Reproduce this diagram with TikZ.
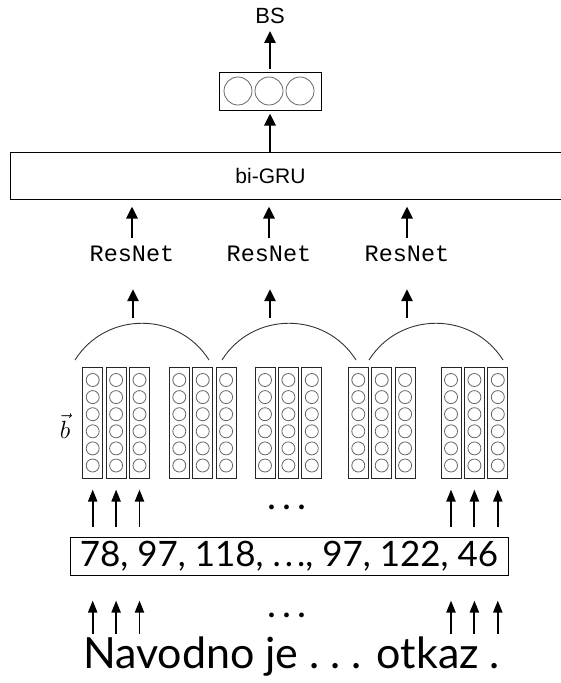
\documentclass[tikz,border=0pt]{standalone}
\usepackage{fontspec}
\setmainfont{Liberation Sans}
\setmonofont{Liberation Mono}
\newfontfamily\gill{Lato}
\usetikzlibrary{arrows.meta}
\begin{document}
\begin{tikzpicture}[x=1pt,y=-1pt,
  box/.style={draw, line width=1pt},
  cell/.style={circle, draw=black!60, line width=0.8pt, minimum size=13pt, inner sep=0pt},
  col/.style={draw=black!85, line width=1pt, minimum width=20pt, minimum height=111pt, inner sep=0pt},
  up/.style={line width=2.8pt, -{Triangle[width=11pt,length=12pt]}},
  thinup/.style={line width=1.9pt, -{Triangle[width=9pt,length=12pt]}},
  bow/.style={line width=0.9pt, draw=black!80}]
\useasboundingbox (0,0) rectangle (560,683);
\node[inner sep=2pt, font=\fontsize{22}{24}\selectfont] (bs) at (270,16) {BS};
\node[box, minimum width=102pt, minimum height=38pt] (out) at (270,91) {};
\node[cell, minimum size=28pt] (o1) at (238,91) {};
\node[cell, minimum size=28pt] (o2) at (269,91) {};
\node[cell, minimum size=28pt] (o3) at (300,91) {};
\node[box, anchor=west, minimum height=47pt, inner xsep=0pt, font=\fontsize{21}{24}\selectfont] (gru) at (10,175.5) {\makebox[570pt][l]{\makebox[520pt]{bi-GRU}}};
\node[inner sep=2pt, font=\ttfamily\fontsize{23.5}{26}\selectfont] (r1) at (132,254) {ResNet};
\node[inner sep=2pt, font=\ttfamily\fontsize{23.5}{26}\selectfont] (r2) at (269,254) {ResNet};
\node[inner sep=2pt, font=\ttfamily\fontsize{23.5}{26}\selectfont] (r3) at (407,254) {ResNet};
\coordinate (t1) at (133,318);
\coordinate (t2) at (270,318);
\coordinate (t3) at (407,318);
\node[inner sep=1pt, font=\fontsize{24}{26}\selectfont] (vb) at (65,426) {$\vec{b}$};
\foreach \g/\gx in {1/92.7,2/179.3,3/265,4/358.3,5/451}
  \foreach \c in {0,1,2} {
    \node[col] (col\g\c) at ({\gx+23.4*\c},422.5) {};
    \foreach \k in {0,...,5}
      \node[cell] (cell\g\c\k) at ({\gx+23.4*\c},{380+17.1*\k}) {};
  }
\node[box, inner sep=0pt, minimum width=438pt, minimum height=38pt, font=\gill\fontsize{35}{38}\selectfont] (nums) at (289,556) {78, 97, 118, .\kern4pt.\kern4pt., 97, 122, 46};
\node[inner sep=0pt, font=\gill\fontsize{38}{40}\selectfont] (dots1) at (287,507) {.\kern6pt.\kern6pt.};
\node[inner sep=0pt, font=\gill\fontsize{38}{40}\selectfont] (dots2) at (287,615) {.\kern6pt.\kern6pt.};
\node[inner sep=0pt, anchor=base, font=\gill\fontsize{43}{46}\selectfont] (words) at (291.5,668) {Navodno je .\kern11pt.\kern11pt. otkaz .};
\draw[up, shorten <=3pt, shorten >=5pt] (out) -- (bs);
\draw[up, shorten >=3pt] (gru.north -| out) -- (out);
\foreach \r/\t in {r1/t1,r2/t2,r3/t3} {
  \draw[up, shorten <=6pt, shorten >=7pt] (\r.north) -- (\r |- gru.south);
  \draw[up, shorten >=25pt] (\t) -- (\r.south -| \t);
}
\foreach \a in {75,222,369}
  \draw[bow] (\a,360) .. controls ({\a+31},311) and ({\a+103},311) .. ({\a+134},360);
\foreach \g in {1,5}
  \foreach \c in {0,1,2} {
    \draw[thinup, shorten <=10pt, shorten >=11pt] (nums.north -| col\g\c) -- (col\g\c.south);
    \draw[thinup, shorten <=2pt, shorten >=25pt] (words.north -| col\g\c) -- (nums.south -| col\g\c);
  }
\end{tikzpicture}
\end{document}
